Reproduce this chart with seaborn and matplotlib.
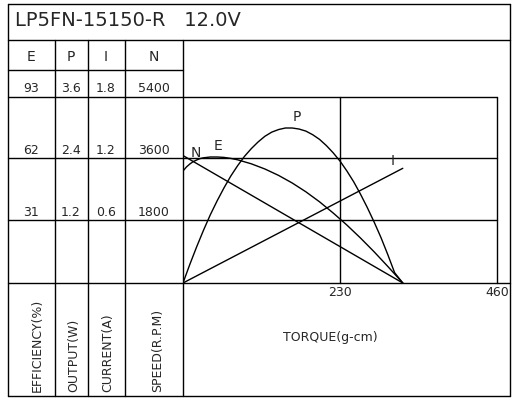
import matplotlib
matplotlib.use("Agg")
import matplotlib.pyplot as plt
import seaborn as sns
from matplotlib.lines import Line2D

sns.set_theme(style="white")
plt.rcParams['font.family'] = ['DejaVu Sans']

torque_lin = [0, 322]
speed = [3700, 0]
current = [0, 1.11]
torque_p = [0, 10, 20, 30, 40, 50, 60, 70, 80, 90, 100, 110, 120, 130, 140, 150, 160, 170, 180, 190,
            200, 210, 220, 230, 240, 250, 260, 270, 280, 290, 300, 310, 322]
power = [0, 0.36, 0.70, 1.02, 1.32, 1.59, 1.84, 2.07, 2.27, 2.45, 2.60, 2.73, 2.84, 2.92, 2.97, 3.00,
         3.00, 2.98, 2.94, 2.87, 2.78, 2.66, 2.52, 2.36, 2.17, 1.96, 1.72, 1.46, 1.18, 0.88, 0.55, 0.20, 0]
torque_e = [0, 5, 10, 15, 20, 25, 30, 40, 50, 60, 70, 80, 100, 120, 140, 160, 180, 200, 220, 240,
            260, 280, 300, 322]
eff = [56, 58, 59.5, 60.7, 61.5, 62.2, 62.6, 63, 63, 62.8, 62.3, 61.6, 59.6, 57, 53.8, 50, 45.6,
       40.6, 35, 29, 22.5, 15.6, 8.3, 0]

col_heads = ["E", "P", "I", "N"]
rows = [["93", "3.6", "1.8", "5400"], ["62", "2.4", "1.2", "3600"], ["31", "1.2", "0.6", "1800"]]
axis_labels = ["EFFICIENCY(%)", "OUTPUT(W)", "CURRENT(A)", "SPEED(R.P.M)"]

W, H = 516, 400
fig = plt.figure(figsize=(W/100, H/100), dpi=100)

def line(x0, y0, x1, y1, lw=1):
    fig.add_artist(Line2D([x0/W, x1/W], [1-y0/H, 1-y1/H], color="black", lw=lw, transform=fig.transFigure))

def text(x, y, s, **kw):
    fig.text(x/W, 1-y/H, s, **kw)

ax = fig.add_axes([183/W, 1-283/H, 314/W, 186/H])
ax.set_xlim(0, 460); ax.set_ylim(0, 5400)
axes = [ax]
lims = [3.6, 1.8, 93]
for l in lims:
    a = ax.twinx(); a.set_ylim(0, l); axes.append(a)
for a in axes:
    a.set_xticks([]); a.set_yticks([])
    for s in a.spines.values(): s.set_visible(False)
    a.patch.set_visible(False)
sns.lineplot(x=torque_lin, y=speed, ax=axes[0], color="black", lw=1)
sns.lineplot(x=torque_p, y=power, ax=axes[1], color="black", lw=1)
sns.lineplot(x=torque_lin, y=current, ax=axes[2], color="black", lw=1)
sns.lineplot(x=torque_e, y=eff, ax=axes[3], color="black", lw=1)
for a in axes: a.set_xlabel(""); a.set_ylabel("")

line(8, 4, 510, 4); line(8, 396, 510, 396); line(8, 4, 8, 396); line(510, 4, 510, 396)
line(8, 40, 510, 40)
line(8, 283, 510, 283)
for y in (97, 158, 220):
    line(8, y, 497, y)
line(8, 70, 183, 70)
for x in (55, 88, 125, 183):
    line(x, 40, x, 396)
line(340, 97, 340, 283); line(497, 97, 497, 283)

text(15, 20, "LP5FN-15150-R   12.0V", fontsize=14, va="center")
cx = [31, 71, 106, 154]
for c, h in zip(cx, col_heads):
    text(c, 57, h, fontsize=10, ha="center", va="center")
for y, r in zip((88, 150, 212), rows):
    for c, s in zip(cx, r):
        text(c, y, s, fontsize=9, ha="center", va="center")
for c, s in zip([37, 74, 108, 158], axis_labels):
    text(c, 392, s, fontsize=9, rotation=90, ha="center", va="bottom")
text(340, 293, "230", fontsize=9, ha="center", va="center")
text(497, 293, "460", fontsize=9, ha="center", va="center")
text(330, 338, "TORQUE(g-cm)", fontsize=9, ha="center", va="center")
text(196, 153, "N", fontsize=10, ha="center", va="center")
text(218, 146, "E", fontsize=10, ha="center", va="center")
text(297, 117, "P", fontsize=10, ha="center", va="center")
text(393, 161, "I", fontsize=10, ha="center", va="center")

fig.savefig("out.png", dpi=100)
